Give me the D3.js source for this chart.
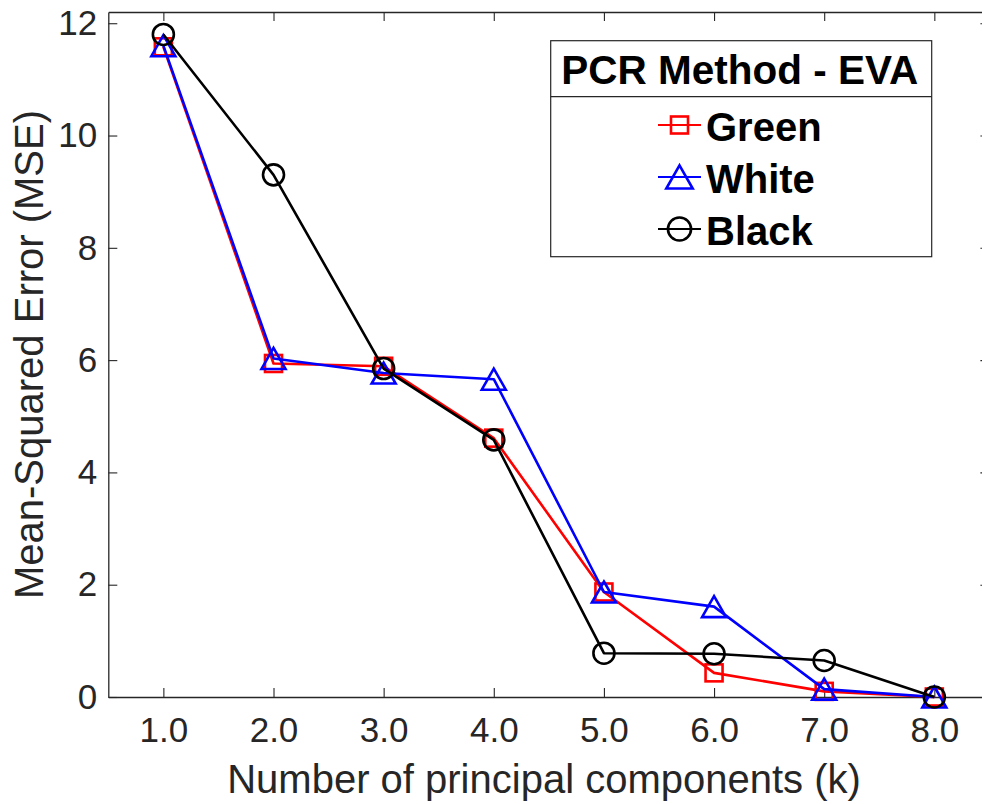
<!DOCTYPE html>
<html>
<head>
<meta charset="utf-8">
<script src="https://cdn.jsdelivr.net/npm/d3@7/dist/d3.min.js"></script>
<style>
  html, body { margin: 0; padding: 0; background: #ffffff; }
  svg { display: block; }
  text { font-family: "Liberation Sans", Arial, Helvetica, sans-serif; }
</style>
</head>
<body>
<script>
// Number of principal components used in the regression
const kValues = [1, 2, 3, 4, 5, 6, 7, 8];

// Mean-squared error per component count, one array per sample group
const greenMSE = [11.58, 5.94, 5.89, 4.61, 1.87, 0.43, 0.10, 0.00];
const whiteMSE = [11.60, 6.03, 5.77, 5.66, 1.87, 1.61, 0.14, 0.00];
const blackMSE = [11.80, 9.30, 5.85, 4.58, 0.78, 0.77, 0.65, 0.00];

const seriesNames = ["Green", "White", "Black"];
const xTickValues = [1, 2, 3, 4, 5, 6, 7, 8];
const yTickValues = [0, 2, 4, 6, 8, 10, 12];
const legendTitle = "PCR Method - EVA";

const W = 982, H = 804;
const plot = { left: 108.3, right: 989.4, top: 12, bottom: 697 };
const axisColor = "#262626";

const series = [
  { name: seriesNames[0], values: greenMSE, color: "#ff0000", marker: "square" },
  { name: seriesNames[1], values: whiteMSE, color: "#0000ff", marker: "triangle" },
  { name: seriesNames[2], values: blackMSE, color: "#000000", marker: "circle" }
];

const svg = d3.select("body").append("svg")
  .attr("width", W).attr("height", H);

const x = d3.scaleLinear().domain([0.5, 8.5]).range([plot.left, plot.right]);
const y = d3.scaleLinear().domain([0, 12.2]).range([plot.bottom, plot.top]);

// Axes: ticks point inward, box closed on top and right
function styleAxis(g) {
  g.selectAll("path.domain").attr("stroke", axisColor).attr("stroke-width", 1.3);
  g.selectAll(".tick line").attr("stroke", axisColor).attr("stroke-width", 1.1);
  g.selectAll(".tick text").attr("fill", axisColor).style("font-size", "35px")
    .style("font-family", "'Liberation Sans', Arial, Helvetica, sans-serif");
}

svg.append("g")
  .attr("transform", `translate(0,${plot.bottom})`)
  .call(d3.axisBottom(x).tickValues(xTickValues).tickFormat(d3.format(".1f"))
    .tickSizeInner(-9).tickSizeOuter(0).tickPadding(20))
  .call(styleAxis);

svg.append("g")
  .attr("transform", `translate(0,${plot.top})`)
  .call(d3.axisTop(x).tickValues(xTickValues).tickFormat("")
    .tickSizeInner(-9).tickSizeOuter(0))
  .call(styleAxis);

svg.append("g")
  .attr("transform", `translate(${plot.left},0)`)
  .call(d3.axisLeft(y).tickValues(yTickValues).tickFormat(d3.format("d"))
    .tickSizeInner(-9).tickSizeOuter(0).tickPadding(11))
  .call(styleAxis);

svg.append("g")
  .attr("transform", `translate(${plot.right},0)`)
  .call(d3.axisRight(y).tickValues(yTickValues).tickFormat("")
    .tickSizeInner(-9).tickSizeOuter(0))
  .call(styleAxis);

// Axis titles
svg.append("text")
  .attr("x", 544).attr("y", 792.5)
  .attr("text-anchor", "middle")
  .attr("fill", axisColor)
  .style("font-size", "40px")
  .text("Number of principal components (k)");

svg.append("text")
  .attr("transform", `translate(43,${(plot.top + plot.bottom) / 2}) rotate(-90)`)
  .attr("text-anchor", "middle")
  .attr("fill", axisColor)
  .style("font-size", "40px")
  .text("Mean-Squared Error (MSE)");

// Marker shapes
function drawMarker(g, type, cx, cy, color, scale) {
  const s = scale || 1;
  if (type === "square") {
    const h = 8.5 * s;
    g.append("rect").attr("x", cx - h).attr("y", cy - h)
      .attr("width", 2 * h).attr("height", 2 * h)
      .attr("fill", "none").attr("stroke", color).attr("stroke-width", 2.6);
  } else if (type === "triangle") {
    const hw = 12 * s, hh = 10.5 * s;
    g.append("path")
      .attr("d", `M${cx},${cy - hh}L${cx + hw},${cy + hh}L${cx - hw},${cy + hh}Z`)
      .attr("fill", "none").attr("stroke", color).attr("stroke-width", 2.6)
      .attr("stroke-linejoin", "miter");
  } else {
    g.append("circle").attr("cx", cx).attr("cy", cy).attr("r", 10.5 * s)
      .attr("fill", "none").attr("stroke", color).attr("stroke-width", 2.6);
  }
}

const line = d3.line().x(d => x(d[0])).y(d => y(d[1]));

series.forEach(s => {
  const g = svg.append("g");
  const pts = kValues.map((k, i) => [k, s.values[i]]);
  g.append("path").datum(pts)
    .attr("d", line)
    .attr("fill", "none").attr("stroke", s.color)
    .attr("stroke-width", 2.6).attr("stroke-linejoin", "round");
  pts.forEach(p => drawMarker(g, s.marker, x(p[0]), y(p[1]), s.color, 1));
});

// Legend
const lg = svg.append("g");
const box = { x: 550.7, y: 40.7, w: 381, h: 216 };
lg.append("rect").attr("x", box.x).attr("y", box.y)
  .attr("width", box.w).attr("height", box.h)
  .attr("fill", "#ffffff").attr("stroke", axisColor).attr("stroke-width", 1.2);
lg.append("line")
  .attr("x1", box.x).attr("x2", box.x + box.w)
  .attr("y1", 96.7).attr("y2", 96.7)
  .attr("stroke", axisColor).attr("stroke-width", 1.2);
lg.append("text")
  .attr("x", box.x + box.w / 2 - 1.5).attr("y", 84)
  .attr("text-anchor", "middle")
  .attr("fill", "#000000")
  .style("font-size", "40.5px").style("font-weight", "bold")
  .text(legendTitle);

const rowY = [125, 177, 229];
series.forEach((s, i) => {
  const cy = rowY[i];
  lg.append("line")
    .attr("x1", 658).attr("x2", 701)
    .attr("y1", cy).attr("y2", cy)
    .attr("stroke", s.color).attr("stroke-width", 2.2);
  drawMarker(lg, s.marker, 679.5, cy, s.color, s.marker === "square" ? 1 : 1.1);
  lg.append("text")
    .attr("x", 706).attr("y", cy + 15.5)
    .attr("fill", "#000000")
    .style("font-size", "40px").style("font-weight", "bold")
    .text(s.name);
});
</script>
</body>
</html>
